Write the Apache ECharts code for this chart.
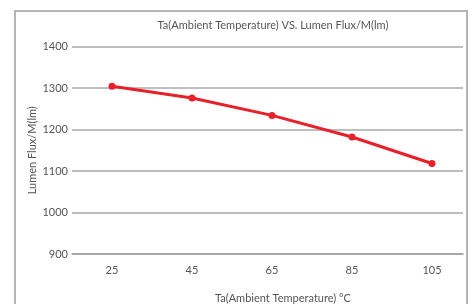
<!DOCTYPE html>
<html>
<head>
<meta charset="utf-8">
<script src="https://cdn.jsdelivr.net/npm/echarts@6/dist/echarts.min.js"></script>
<style>
  html, body { margin: 0; padding: 0; background: #fff; }
  #chart { width: 474px; height: 304px; }
</style>
</head>
<body>
<div id="chart"></div>
<script>
const temps = [25, 45, 65, 85, 105];
const lumen = [1304, 1276, 1234, 1182, 1118];
const yTicks = [900, 1000, 1100, 1200, 1300, 1400];

const font = 'Lato, "DejaVu Sans", sans-serif';
const textColor = '#555';

const chart = echarts.init(document.getElementById('chart'));

const option = {
  animation: false,
  backgroundColor: '#fff',
  grid: { left: 72, right: 11, top: 46.5, bottom: 50, outerBoundsMode: 'none', containLabel: false },
  graphic: [
    {
      type: 'rect',
      shape: { x: 15, y: 11, width: 452, height: 330 },
      style: { fill: 'none', stroke: '#b4b4b4', lineWidth: 2 },
      silent: true
    },
    {
      type: 'text',
      x: 273, y: 25,
      style: {
        text: 'Ta(Ambient Temperature) VS. Lumen Flux/M(lm)',
        fill: textColor, font: '11px ' + font,
        textAlign: 'center', textVerticalAlign: 'middle'
      }
    }
  ],
  xAxis: {
    type: 'value',
    min: 15,
    max: 112.75,
    name: 'Ta(Ambient Temperature) °C',
    nameLocation: 'middle',
    nameGap: 39,
    nameMoveOverlap: false,
    nameTextStyle: { color: textColor, fontSize: 11, fontFamily: font, padding: [0, 0, 0, 31] },
    axisLine: { show: true, lineStyle: { color: '#a0a0a0', width: 1.5 } },
    axisTick: { show: false },
    splitLine: { show: false },
    axisLabel: {
      customValues: temps,
      color: textColor, fontSize: 11, fontFamily: font, margin: 11
    }
  },
  yAxis: {
    type: 'value',
    min: yTicks[0],
    max: yTicks[yTicks.length - 1],
    interval: 100,
    name: 'Lumen Flux/M(lm)',
    nameLocation: 'middle',
    nameGap: 34,
    nameMoveOverlap: false,
    nameTextStyle: { color: textColor, fontSize: 11, fontFamily: font },
    axisLine: { show: false },
    axisTick: { show: false },
    splitLine: { lineStyle: { color: '#a8a8a8', width: 1.5 } },
    axisLabel: {
      color: textColor, fontSize: 11, fontFamily: font, margin: 4,
      formatter: (v) => String(v)
    }
  },
  series: [
    {
      type: 'line',
      data: temps.map((t, i) => [t, lumen[i]]),
      symbol: 'circle',
      symbolSize: 7,
      lineStyle: { color: '#e8202a', width: 3 },
      itemStyle: { color: '#e8202a' }
    }
  ]
};

chart.setOption(option);
</script>
</body>
</html>
